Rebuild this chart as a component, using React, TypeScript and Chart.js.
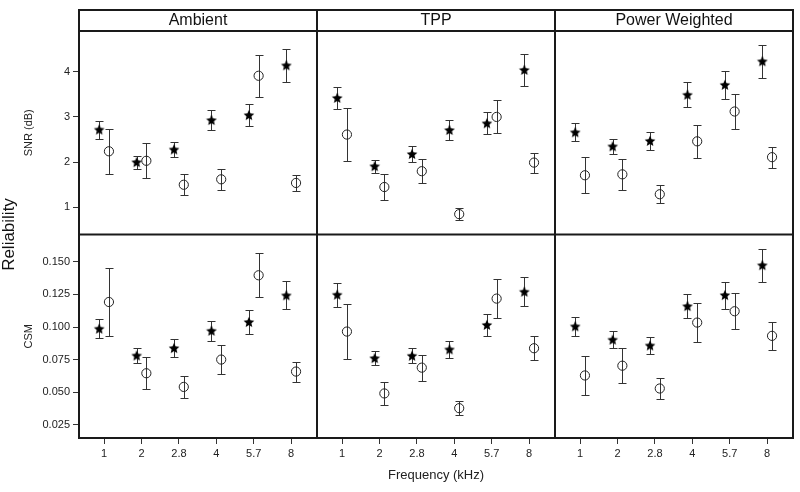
import React, { useEffect, useRef } from "react";
import { Chart, registerables } from "chart.js";

Chart.register(...registerables);

// ---------- data ----------
const freqLabels = ["1", "2", "2.8", "4", "5.7", "8"];
const panelTitles = ["Ambient", "TPP", "Power Weighted"];
const snrTicks = [1, 2, 3, 4];
const csmTicks = [0.025, 0.05, 0.075, 0.1, 0.125, 0.15];

// SNR (dB) — stars (filled) and circles (open), mean and half-width of error bar
const ambSnrStar = [2.72, 2.0, 2.28, 2.93, 3.04, 4.14];
const ambSnrStarErr = [0.2, 0.145, 0.17, 0.23, 0.25, 0.36];
const ambSnrCirc = [2.24, 2.03, 1.5, 1.62, 3.91, 1.54];
const ambSnrCircErr = [0.5, 0.385, 0.23, 0.235, 0.465, 0.18];

const tppSnrStar = [3.42, 1.91, 2.18, 2.71, 2.86, 4.04];
const tppSnrStarErr = [0.25, 0.14, 0.17, 0.215, 0.24, 0.35];
const tppSnrCirc = [2.61, 1.45, 1.8, 0.85, 3.0, 1.99];
const tppSnrCircErr = [0.585, 0.295, 0.265, 0.125, 0.365, 0.22];

const pwSnrStar = [2.66, 2.35, 2.47, 3.49, 3.71, 4.23];
const pwSnrStarErr = [0.2, 0.17, 0.195, 0.275, 0.31, 0.37];
const pwSnrCirc = [1.71, 1.73, 1.29, 2.46, 3.12, 2.11];
const pwSnrCircErr = [0.395, 0.345, 0.2, 0.36, 0.38, 0.235];

// CSM
const ambCsmStar = [0.0987, 0.0781, 0.0838, 0.0971, 0.1038, 0.1243];
const ambCsmStarErr = [0.0071, 0.0058, 0.0067, 0.0078, 0.0089, 0.0108];
const ambCsmCirc = [0.1192, 0.0645, 0.054, 0.075, 0.1397, 0.0658];
const ambCsmCircErr = [0.026, 0.0123, 0.0084, 0.0109, 0.0168, 0.0077];

const tppCsmStar = [0.1248, 0.0761, 0.0779, 0.0828, 0.1016, 0.1271];
const tppCsmStarErr = [0.0091, 0.0056, 0.0057, 0.0064, 0.0086, 0.0109];
const tppCsmCirc = [0.0965, 0.049, 0.0688, 0.0377, 0.1218, 0.0837];
const tppCsmCircErr = [0.0214, 0.009, 0.01, 0.0055, 0.0147, 0.0093];

const pwCsmStar = [0.1005, 0.0903, 0.0858, 0.116, 0.1245, 0.1474];
const pwCsmStarErr = [0.0073, 0.0067, 0.0067, 0.0091, 0.0104, 0.0127];
const pwCsmCirc = [0.0628, 0.0703, 0.0528, 0.1034, 0.1121, 0.0932];
const pwCsmCircErr = [0.0147, 0.0135, 0.008, 0.0148, 0.0137, 0.0105];

// ---------- style ----------
const FONT = "'Liberation Sans', Arial, Helvetica, sans-serif";
const DODGE = 0.13;
const X_IDS = ["x_amb", "x_tpp", "x_pw"];

function makeStar(): HTMLCanvasElement {
  const c = document.createElement("canvas");
  c.width = 12;
  c.height = 12;
  const g = c.getContext("2d")!;
  const cx = 6, cy = 6.4, R = 5.6, r = 2.6;
  g.beginPath();
  for (let k = 0; k < 10; k++) {
    const ang = -Math.PI / 2 + (k * Math.PI) / 5;
    const rad = k % 2 === 0 ? R : r;
    const px = cx + rad * Math.cos(ang);
    const py = cy + rad * Math.sin(ang);
    if (k === 0) g.moveTo(px, py);
    else g.lineTo(px, py);
  }
  g.closePath();
  g.fillStyle = "#000";
  g.fill();
  return c;
}

const decorPlugin = {
  id: "decor",
  beforeDatasetsDraw(chart: any) {
    const ctx = chart.ctx;
    ctx.save();
    ctx.strokeStyle = "#333";
    ctx.lineWidth = 1;
    chart.data.datasets.forEach((ds: any, di: number) => {
      const meta = chart.getDatasetMeta(di);
      const ys = chart.scales[ds.yAxisID];
      meta.data.forEach((pt: any, i: number) => {
        const v = ds.data[i].y;
        const e = ds.errs[i];
        const x = Math.round(pt.x) + 0.5;
        const y1 = Math.round(ys.getPixelForValue(v + e)) + 0.5;
        const y2 = Math.round(ys.getPixelForValue(v - e)) + 0.5;
        ctx.beginPath();
        ctx.moveTo(x, y1);
        ctx.lineTo(x, y2);
        ctx.moveTo(x - 4, y1);
        ctx.lineTo(x + 4, y1);
        ctx.moveTo(x - 4, y2);
        ctx.lineTo(x + 4, y2);
        ctx.stroke();
      });
    });
    ctx.restore();
  },
  afterDraw(chart: any) {
    const ctx = chart.ctx;
    const a = chart.chartArea;
    const stripTop = a.top - 21;
    const cols = X_IDS.map((id) => chart.scales[id]);
    const rowDiv = chart.scales.y_snr.bottom;
    ctx.save();
    // strip texts
    ctx.fillStyle = "#111";
    ctx.font = `16px ${FONT}`;
    ctx.textAlign = "center";
    ctx.textBaseline = "middle";
    cols.forEach((s: any, i: number) => {
      ctx.fillText(panelTitles[i], (s.left + s.right) / 2, (stripTop + a.top) / 2 + 0.5);
    });
    // frame lines
    ctx.strokeStyle = "#1a1a1a";
    ctx.lineWidth = 2;
    ctx.beginPath();
    ctx.rect(a.left, stripTop, a.right - a.left, a.bottom - stripTop);
    ctx.moveTo(a.left, a.top);
    ctx.lineTo(a.right, a.top);
    ctx.moveTo(a.left, rowDiv);
    ctx.lineTo(a.right, rowDiv);
    for (let i = 1; i < cols.length; i++) {
      const x = Math.round(cols[i].left);
      ctx.moveTo(x, stripTop);
      ctx.lineTo(x, a.bottom);
    }
    ctx.stroke();
    // overall y title
    ctx.fillStyle = "#111";
    ctx.font = `17px ${FONT}`;
    ctx.translate(9, (a.top + a.bottom) / 2);
    ctx.rotate(-Math.PI / 2);
    ctx.fillText("Reliability", 0, 0);
    ctx.restore();
  },
};

function xScale(weight: number, showTitle: boolean) {
  return {
    type: "linear",
    position: "bottom",
    stack: "cols",
    weight,
    min: -0.67,
    max: 5.69,
    afterBuildTicks: (s: any) => {
      s.ticks = freqLabels.map((_, i) => ({ value: i }));
    },
    afterFit: (s: any) => {
      s.height = 54;
    },
    ticks: {
      callback: (v: number) => freqLabels[Math.round(v)] ?? "",
      font: { family: FONT, size: 11 },
      color: "#222",
      padding: 3,
      maxRotation: 0,
      autoSkip: false,
    },
    grid: { drawOnChartArea: false, drawTicks: true, tickLength: 6, color: "#333", lineWidth: 1 },
    border: { display: false },
    title: {
      display: showTitle,
      text: "Frequency (kHz)",
      font: { family: FONT, size: 13 },
      color: "#222",
      padding: { top: 0, bottom: 9 },
    },
  };
}

function yScale(weight: number, min: number, max: number, ticksArr: number[], title: string, decimals: number) {
  return {
    type: "linear",
    position: "left",
    stack: "rows",
    weight,
    min,
    max,
    afterBuildTicks: (s: any) => {
      s.ticks = ticksArr.map((v) => ({ value: v }));
    },
    afterFit: (s: any) => {
      s.width = 79;
    },
    ticks: {
      callback: (v: number) => Number(v).toFixed(decimals),
      font: { family: FONT, size: 11 },
      color: "#222",
      padding: 3,
      autoSkip: false,
    },
    grid: { drawOnChartArea: false, drawTicks: true, tickLength: 6, color: "#333", lineWidth: 1 },
    border: { display: false },
    title: {
      display: true,
      text: title,
      font: { family: FONT, size: 11 },
      color: "#222",
      padding: { top: 22, bottom: 0 },
    },
  };
}

export default function App() {
  const ref = useRef<HTMLCanvasElement | null>(null);

  useEffect(() => {
    document.body.style.margin = "0";
    const star = makeStar();
    const panels = [
      { x: "x_amb", y: "y_snr", s: ambSnrStar, se: ambSnrStarErr, c: ambSnrCirc, ce: ambSnrCircErr },
      { x: "x_tpp", y: "y_snr", s: tppSnrStar, se: tppSnrStarErr, c: tppSnrCirc, ce: tppSnrCircErr },
      { x: "x_pw", y: "y_snr", s: pwSnrStar, se: pwSnrStarErr, c: pwSnrCirc, ce: pwSnrCircErr },
      { x: "x_amb", y: "y_csm", s: ambCsmStar, se: ambCsmStarErr, c: ambCsmCirc, ce: ambCsmCircErr },
      { x: "x_tpp", y: "y_csm", s: tppCsmStar, se: tppCsmStarErr, c: tppCsmCirc, ce: tppCsmCircErr },
      { x: "x_pw", y: "y_csm", s: pwCsmStar, se: pwCsmStarErr, c: pwCsmCirc, ce: pwCsmCircErr },
    ];
    const datasets: any[] = [];
    panels.forEach((p) => {
      datasets.push({
        type: "scatter",
        xAxisID: p.x,
        yAxisID: p.y,
        data: p.c.map((v, i) => ({ x: i + DODGE, y: v })),
        errs: p.ce,
        pointStyle: "circle",
        pointRadius: 4.6,
        pointBorderWidth: 1,
        pointBorderColor: "#222",
        pointBackgroundColor: "rgba(0,0,0,0)",
      });
      datasets.push({
        type: "scatter",
        xAxisID: p.x,
        yAxisID: p.y,
        data: p.s.map((v, i) => ({ x: i - DODGE, y: v })),
        errs: p.se,
        pointStyle: star,
        pointRadius: 6,
      });
    });

    const chart = new Chart(ref.current!, {
      type: "scatter",
      data: { datasets },
      options: {
        animation: false,
        responsive: false,
        events: [],
        layout: { padding: { top: 31, right: 2, left: 0, bottom: 0 } },
        plugins: { legend: { display: false }, tooltip: { enabled: false } },
        scales: {
          x_amb: xScale(0, false),
          x_tpp: xScale(1, true),
          x_pw: xScale(2, false),
          y_csm: yScale(0, 0.0148, 0.171, csmTicks, "CSM", 3),
          y_snr: yScale(1, 0.4, 4.9, snrTicks, "SNR (dB)", 0),
        } as any,
      },
      plugins: [decorPlugin],
    } as any);
    return () => chart.destroy();
  }, []);

  return (
    <div style={{ width: 800, height: 492, position: "relative", background: "#fff" }}>
      <canvas ref={ref} width={800} height={492} style={{ display: "block", width: 800, height: 492 }} />
    </div>
  );
}
